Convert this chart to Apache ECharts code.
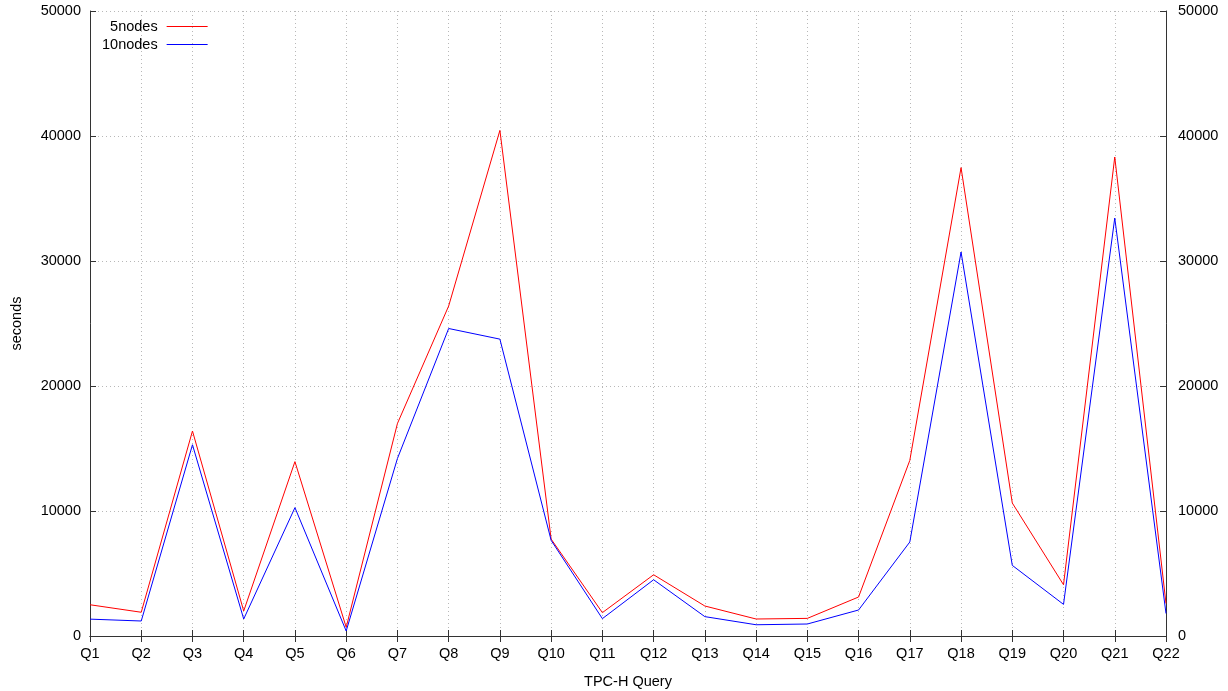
<!DOCTYPE html>
<html>
<head>
<meta charset="utf-8">
<script src="https://cdn.jsdelivr.net/npm/echarts@6/dist/echarts.min.js"></script>
<style>
html,body{margin:0;padding:0;background:#fff;}
#chart{width:1228px;height:691px;}
</style>
</head>
<body>
<div id="chart"></div>
<script>
const categories = ['Q1','Q2','Q3','Q4','Q5','Q6','Q7','Q8','Q9','Q10','Q11','Q12','Q13','Q14','Q15','Q16','Q17','Q18','Q19','Q20','Q21','Q22'];
const nodes5 = [2500, 1900, 16400, 2000, 13950, 700, 17000, 26400, 40450, 7750, 1870, 4900, 2400, 1360, 1410, 3120, 14050, 37470, 10640, 4100, 38320, 2600];
const nodes10 = [1350, 1200, 15300, 1360, 10270, 400, 14200, 24600, 23750, 7650, 1390, 4500, 1550, 900, 960, 2080, 7520, 30720, 5650, 2530, 33440, 1800];
const yTicks = [0, 10000, 20000, 30000, 40000, 50000];

const font = 'Liberation Sans, Arial, sans-serif';
const axisColor = '#333';
const gridStyle = {show: true, lineStyle: {color: '#b8b8b8', type: [1, 3], width: 1}};

const chart = echarts.init(document.getElementById('chart'), null, {renderer: 'canvas'});
chart.setOption({
  animation: false,
  backgroundColor: '#fff',
  grid: {left: 90, right: 62, top: 11, bottom: 55, containLabel: false, outerBoundsMode: 'none'},
  legend: {
    orient: 'vertical', align: 'right', left: 97, top: 14,
    itemGap: 3, itemWidth: 41, itemHeight: 12,
    icon: 'path://M0,6L40,6L40,7L0,7Z',
    textStyle: {fontFamily: font, fontSize: 14.5, color: '#000', width: 60, align: 'right', padding: [0, 4, 0, 0]},
    data: ['5nodes', '10nodes']
  },
  xAxis: [{
    type: 'category', data: categories, boundaryGap: false,
    name: 'TPC-H Query', nameLocation: 'middle', nameGap: 38,
    nameTextStyle: {fontFamily: font, fontSize: 14.5, color: '#000'},
    axisLine: {show: true, lineStyle: {color: axisColor, width: 1}},
    axisTick: {show: true, inside: true, length: 6, alignWithLabel: true, lineStyle: {color: axisColor}},
    axisLabel: {fontFamily: font, fontSize: 14.5, color: '#000', margin: 10, interval: 0},
    splitLine: gridStyle
  }, {
    type: 'category', data: categories, boundaryGap: false, position: 'top',
    axisLine: {show: true, lineStyle: {color: axisColor, width: 1}},
    axisTick: {show: true, inside: true, length: 6, lineStyle: {color: axisColor}},
    axisLabel: {show: false}, splitLine: {show: false}
  }],
  yAxis: [{
    type: 'value', min: 0, max: 50000, interval: 10000, position: 'left',
    name: 'seconds', nameLocation: 'middle', nameGap: 66, nameRotate: 90,
    nameTextStyle: {fontFamily: font, fontSize: 14.5, color: '#000'},
    axisLine: {show: true, lineStyle: {color: axisColor, width: 1}},
    axisTick: {show: true, inside: true, length: 6, lineStyle: {color: axisColor}},
    axisLabel: {fontFamily: font, fontSize: 14.5, color: '#000', margin: 9,
      formatter: v => yTicks.includes(v) ? String(v) : ''},
    splitLine: gridStyle
  }, {
    type: 'value', min: 0, max: 50000, interval: 10000, position: 'right',
    axisLine: {show: true, lineStyle: {color: axisColor, width: 1}},
    axisTick: {show: true, inside: true, length: 6, lineStyle: {color: axisColor}},
    axisLabel: {fontFamily: font, fontSize: 14.5, color: '#000', margin: 12,
      formatter: v => yTicks.includes(v) ? String(v) : ''},
    splitLine: {show: false}
  }],
  series: [{
    name: '5nodes', type: 'line', data: nodes5, symbol: 'none',
    lineStyle: {color: '#ff0000', width: 1}, itemStyle: {color: '#ff0000'}
  }, {
    name: '10nodes', type: 'line', data: nodes10, symbol: 'none',
    lineStyle: {color: '#0000ff', width: 1}, itemStyle: {color: '#0000ff'}
  }]
});
</script>
</body>
</html>
